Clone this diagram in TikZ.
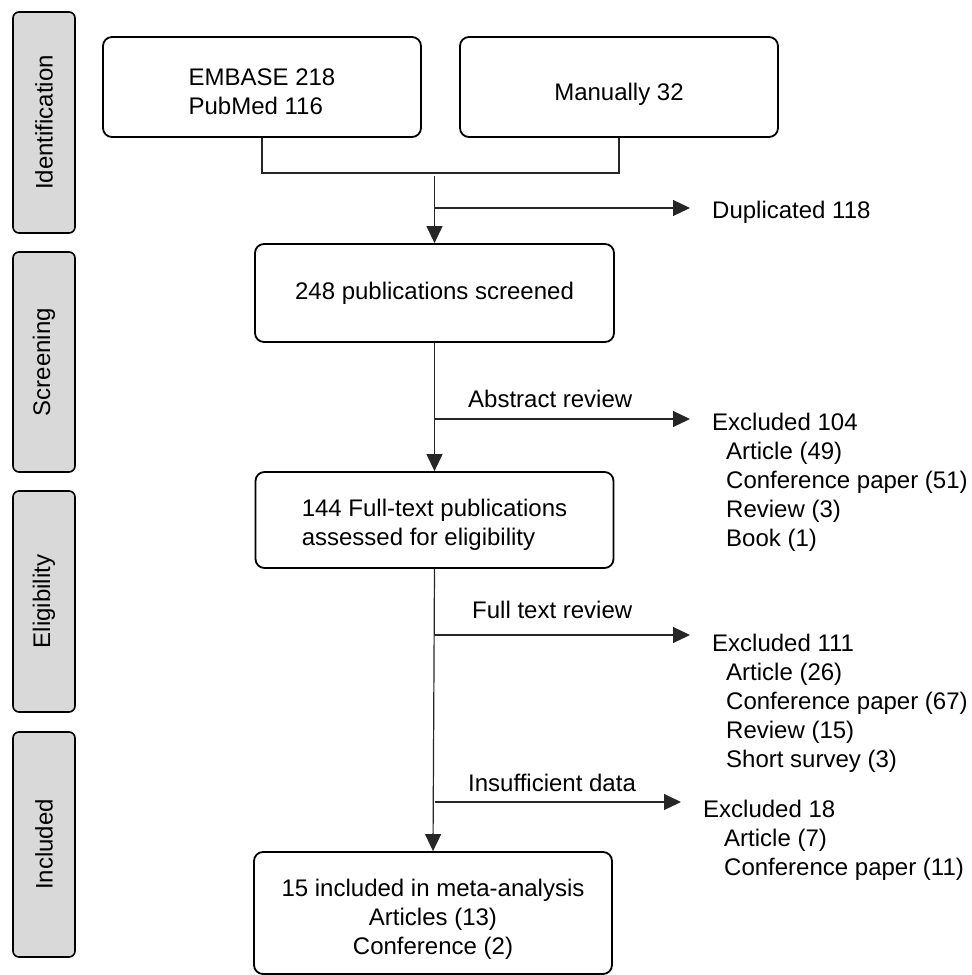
\documentclass[tikz,border=0pt]{standalone}
\usepackage{fontspec}
\setmainfont{Liberation Sans}
\usetikzlibrary{positioning,arrows.meta}
\newcommand*{\xMain}{434.5}
\newcommand*{\xOut}{712}
\newcommand*{\ind}{\hspace*{14pt}}
\newcommand*{\lowr}[1][29pt]{\rule{0pt}{#1}}

\begin{document}
\begin{tikzpicture}[x=1pt, y=-1pt,
    every node/.style={font=\fontsize{24}{29}\selectfont},
    box/.style={draw, line width=1.8pt, rounded corners=9pt, inner sep=0pt},
    phase/.style={draw, line width=1.6pt, fill=gray!30, rounded corners=6pt,
        rotate=90, minimum height=62pt},
    list/.style={anchor=north west, inner sep=0pt, align=left},
    lbl/.style={anchor=base west, inner sep=0pt},
    link/.style={line width=1.2pt, black!85},
    arr/.style={link, -{Triangle[length=17pt, width=16pt]}},
    outarr/.style={arr, shorten >=22pt}]
    \useasboundingbox (0,0) rectangle (972,975);

    % phase bars on the left
    \foreach \name/\yc/\len in {Identification/122.5/221, Screening/362/220,
        Eligibility/601.5/221, Included/844.5/225} {
        \node [phase, minimum width=\len pt] (ph-\name) at (44,\yc) {\name};
    }

    % boxes
    \node [box, minimum width=318pt, minimum height=100pt, align=left] (embase) at (262,87) {\lowr[27pt]EMBASE 218\\PubMed 116};
    \node [box, minimum width=318pt, minimum height=100pt] (manual) at (619,87) {\lowr[31pt]Manually 32};
    \node [box, minimum width=359pt, minimum height=98pt] (screen) at (\xMain,293) {248 publications screened};
    \node [box, minimum width=358pt, minimum height=96pt, align=left] (full) at (\xMain,520) {\lowr[27pt]144 Full-text publications\\assessed for eligibility};
    \node [box, minimum width=358pt, minimum height=122pt, align=center] (incl) at (433,913) {\lowr15 included in meta-analysis\\Articles (13)\\Conference (2)};

    % excluded records
    \node [lbl] (dup) at (\xOut,218.5) {Duplicated 118};
    \node [list] (exA) at (\xOut,413) {Excluded 104\\\ind Article (49)\\\ind Conference paper (51)\\\ind Review (3)\\\ind Book (1)};
    \node [list] (exB) at (\xOut,634) {Excluded 111\\\ind Article (26)\\\ind Conference paper (67)\\\ind Review (15)\\\ind Short survey (3)};
    \node [list] (exC) at (703,800) {Excluded 18\\\hspace*{21pt}Article (7)\\\hspace*{21pt}Conference paper (11)};

    % labels on the branches
    \node [lbl] (abs) at (468,407.5) {Abstract review};
    \node [lbl] (ftr) at (472,618.5) {Full text review};
    \node [lbl] (ins) at (468,791.5) {Insufficient data};

    \coordinate (top) at (\xMain,176);
    \coordinate (brD) at (\xMain,208);
    \coordinate (brA) at (\xMain,419);
    \coordinate (brB) at (\xMain,635);
    \coordinate (brC) at (\xMain,802);

    \draw [link] (embase.south) -- ++(0,35) -| (manual.south);
    \draw [arr] (top) -- (screen.north);
    \draw [arr] (screen.south) -- (full.north);
    \draw [arr] (full.south) -- (incl.north);

    \draw [outarr] (brD) -- (brD -| dup.west);
    \draw [outarr] (brA) -- (brA -| exA.west);
    \draw [outarr] (brB) -- (brB -| exB.west);
    \draw [outarr] (brC) -- (brC -| exC.west);
\end{tikzpicture}
\end{document}
